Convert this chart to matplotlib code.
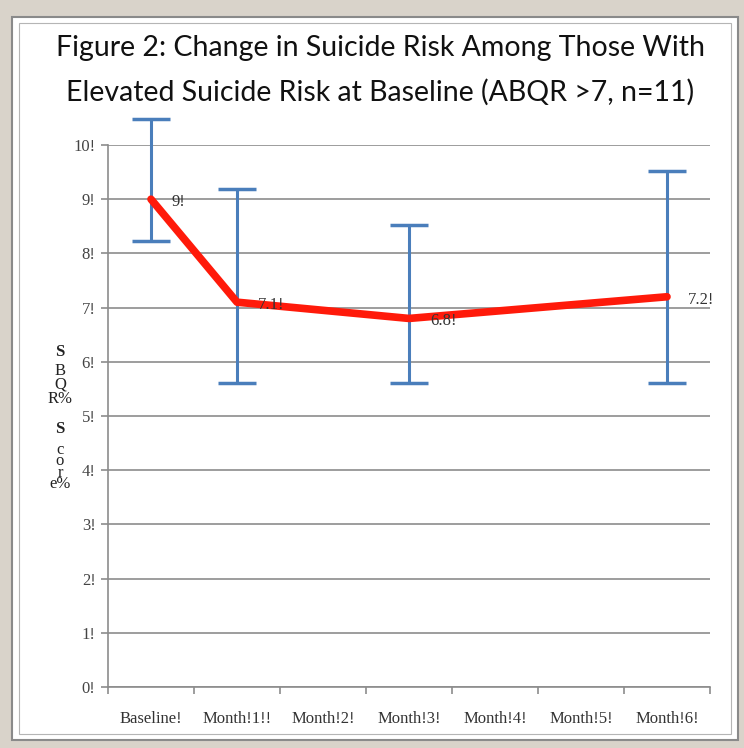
import numpy as np
import matplotlib.pyplot as plt
from matplotlib.patches import Rectangle

# Data
categories = ['Baseline!', 'Month!1!!', 'Month!2!', 'Month!3!', 'Month!4!', 'Month!5!', 'Month!6!']
mean_score = [9.0, 7.1, None, 6.8, None, None, 7.2]
err_high = [10.48, 9.18, None, 8.52, None, None, 9.52]
err_low = [8.22, 5.6, None, 5.6, None, None, 5.6]
point_labels = ['9!', '7.1!', '', '6.8!', '', '', '7.2!']
y_ticks = [0, 1, 2, 3, 4, 5, 6, 7, 8, 9, 10]
y_tick_labels = [f'{t}!' for t in y_ticks]

serif = ['Liberation Serif', 'DejaVu Serif']

fig = plt.figure(figsize=(7.44, 7.48), dpi=100, facecolor='#d9d3ca')

# white chart panel with border
fig.patches.append(Rectangle((12 / 744, 1 - 740 / 748), 726 / 744, 723 / 748,
                             transform=fig.transFigure, facecolor='white',
                             edgecolor='#8a8a8a', linewidth=1.5, zorder=-10))
fig.patches.append(Rectangle((19 / 744, 1 - 734 / 748), 712 / 744, 711 / 748,
                             transform=fig.transFigure, facecolor='none',
                             edgecolor='#b5b5b5', linewidth=0.8, zorder=-9))

ax = fig.add_axes([108 / 744, 1 - 687 / 748, 602 / 744, 542 / 748])
ax.set_facecolor('none')

x = np.arange(len(categories))
idx = [i for i, v in enumerate(mean_score) if v is not None]
xs = x[idx]
ys = np.array([mean_score[i] for i in idx])
hi = np.array([err_high[i] for i in idx])
lo = np.array([err_low[i] for i in idx])

ax.errorbar(xs, ys, yerr=[ys - lo, hi - ys], fmt='none', ecolor='#4a7ebb',
            elinewidth=2.2, capsize=14, capthick=2.5, zorder=3, clip_on=False)
ax.plot(xs, ys, color='#ff1a0a', linewidth=5.5, solid_capstyle='round', zorder=4)

for i in idx:
    ax.annotate(point_labels[i], (x[i], mean_score[i]), xytext=(15, -2),
                textcoords='offset points', ha='left', va='center',
                fontsize=12, family=serif, color='#333333', zorder=5)

ax.set_xlim(-0.5, len(categories) - 0.5)
ax.set_ylim(0, 10)
ax.set_yticks(y_ticks)
ax.set_yticklabels(y_tick_labels, family=serif, fontsize=12, color='#444444')
ax.set_xticks(x)
ax.set_xticklabels(categories, family=serif, fontsize=12, color='#333333')
ax.tick_params(axis='x', length=0, pad=17)
ax.set_xticks(np.arange(-0.5, len(categories)), minor=True)
ax.tick_params(axis='x', which='minor', length=5, color='#8c8c8c', width=1.2, direction='out')
ax.tick_params(axis='y', length=5, color='#8c8c8c', width=1.2, pad=4)

ax.yaxis.grid(True, color='#8c8c8c', linewidth=1.2)
ax.set_axisbelow(True)
for s in ['top', 'right']:
    ax.spines[s].set_visible(False)
for s in ['left', 'bottom']:
    ax.spines[s].set_color('#8c8c8c')
    ax.spines[s].set_linewidth(1.2)

# garbled stacked axis title from the source
fig.text(60 / 744, 1 - 352 / 748, 'S', family=serif, fontsize=12, weight='bold',
         ha='center', va='center', color='#222222')
fig.text(60 / 744, 1 - 385 / 748, 'B\nQ\nR%', family=serif, fontsize=12,
         ha='center', va='center', linespacing=0.8, color='#222222')
fig.text(60 / 744, 1 - 429 / 748, 'S', family=serif, fontsize=12, weight='bold',
         ha='center', va='center', color='#222222')
fig.text(60 / 744, 1 - 467 / 748, 'c\no\nr\ne%', family=serif, fontsize=12,
         ha='center', va='center', linespacing=0.62, color='#222222')

fig.text(380 / 744, 1 - 48 / 748, 'Figure 2: Change in Suicide Risk Among Those With',
         family=['Lato', 'DejaVu Sans'], fontsize=20.5, ha='center', va='center', color='#111111')
fig.text(380 / 744, 1 - 92 / 748, 'Elevated Suicide Risk at Baseline (ABQR >7, n=11)',
         family=['Lato', 'DejaVu Sans'], fontsize=20.5, ha='center', va='center', color='#111111')

fig.savefig('out.png', dpi=100, facecolor=fig.get_facecolor())
